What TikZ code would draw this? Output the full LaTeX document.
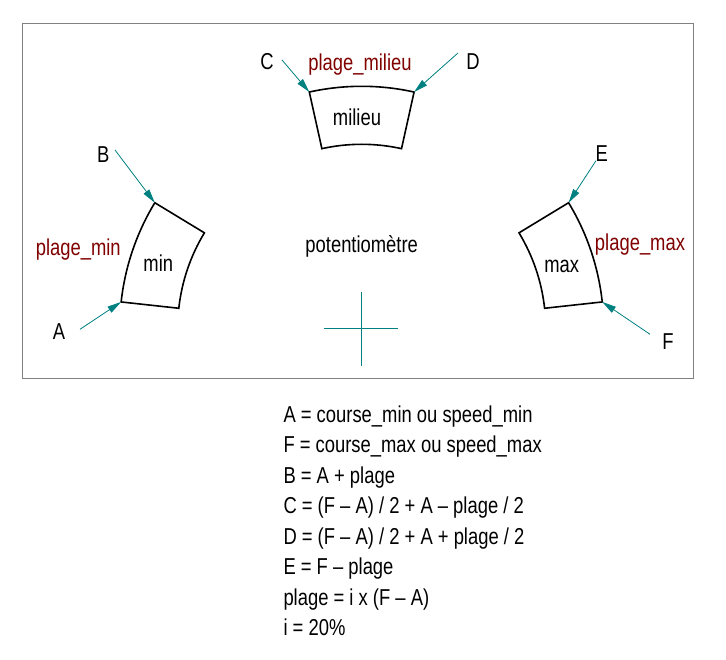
\documentclass[tikz,border=0pt]{standalone}
\usepackage{fontspec}
\setmainfont{Liberation Sans}[FakeStretch=0.8]
\usetikzlibrary{arrows.meta,calc}
\definecolor{teal2}{RGB}{0,128,128}
\definecolor{darkred2}{RGB}{128,0,0}
\definecolor{frame2}{RGB}{128,128,128}
\begin{document}
\begin{tikzpicture}[x=1pt,y=1pt,
  every node/.style={font=\fontsize{23}{27}\selectfont, inner sep=0pt},
  lbl/.style={text=black},
  plg/.style={text=darkred2},
  sector/.style={draw=black, line width=1.6pt, line join=miter},
  arr/.style={draw=teal2, line width=0.8pt, -{Triangle[length=14pt,width=7pt]}},
  crossline/.style={draw=teal2, line width=1pt},
  eq/.style={anchor=base west, text=black}]
\useasboundingbox (0,0) rectangle (726,660);
\draw[frame2, line width=0.8pt] (22,637) rectangle (693,282);
\coordinate (O) at (361.7,331.7);
% corners
\coordinate (Bpt) at ([shift={(O)}]148.75:242);
\coordinate (Apt) at ([shift={(O)}]173.75:242);
\coordinate (Cpt) at ([shift={(O)}]102.5:242);
\coordinate (Dpt) at ([shift={(O)}]77.5:242);
\coordinate (Ept) at ([shift={(O)}]31.25:242);
\coordinate (Fpt) at ([shift={(O)}]6.25:242);
% sectors
\draw[sector] ([shift={(O)}]148.75:242) arc[start angle=148.75, end angle=173.75, radius=242]
  -- ([shift={(O)}]173.75:184) arc[start angle=173.75, end angle=148.75, radius=184] -- cycle;
\draw[sector] ([shift={(O)}]77.5:242) arc[start angle=77.5, end angle=102.5, radius=242]
  -- ([shift={(O)}]102.5:184) arc[start angle=102.5, end angle=77.5, radius=184] -- cycle;
\draw[sector] ([shift={(O)}]6.25:242) arc[start angle=6.25, end angle=31.25, radius=242]
  -- ([shift={(O)}]31.25:184) arc[start angle=31.25, end angle=6.25, radius=184] -- cycle;
% arrow starts
\coordinate (Bs) at (115,510);
\coordinate (As) at (80,330.7);
\coordinate (Cs) at (282,600);
\coordinate (Ds) at (458,607);
\coordinate (Es) at (596,499.3);
\coordinate (Fs) at (650,325.7);
\draw[arr] (Bs) -- (Bpt);
\draw[arr] (As) -- (Apt);
\draw[arr] (Cs) -- (Cpt);
\draw[arr] (Ds) -- (Dpt);
\draw[arr] (Es) -- (Ept);
\draw[arr] (Fs) -- (Fpt);
% labels
\node[lbl] (lC) at (267,598) {C};
\node[lbl] (lD) at (473,598) {D};
\node[plg] (lpmil) at (360,595) {plage\_milieu};
\node[lbl] (lmil) at (357,543) {milieu};
\node[lbl] (lB) at (103.3,505) {B};
\node[lbl] (lA) at (59,328.3) {A};
\node[lbl] (lE) at (601.7,506.7) {E};
\node[lbl] (lF) at (668,318) {F};
\node[plg] (lpmin) at (78.3,410) {plage\_min};
\node[lbl] (lmin) at (158.3,396.7) {min};
\node[plg] (lpmax) at (640,415) {plage\_max};
\node[lbl] (lmax) at (561.7,394) {max};
\node[lbl] (lpot) at (361.7,413.3) {potentiomètre};
% cross
\coordinate (hL) at (324,331.7);
\coordinate (hR) at (397.7,331.7);
\coordinate (vT) at (361.7,368.3);
\coordinate (vB) at (361.7,294.3);
\draw[crossline] (hL) -- (hR);
\draw[crossline] (vT) -- (vB);
% equations
\node[eq] (e1) at (283.3,237.5) {A = course\_min ou speed\_min};
\node[eq] (e2) at (283.3,207.1) {F = course\_max ou speed\_max};
\node[eq] (e3) at (283.3,176.6) {B = A + plage};
\node[eq] (e4) at (283.3,146.2) {C = (F – A) / 2 + A – plage / 2};
\node[eq] (e5) at (283.3,115.8) {D = (F – A) / 2 + A + plage / 2};
\node[eq] (e6) at (283.3,85.4) {E = F – plage};
\node[eq] (e7) at (283.3,54.9) {plage = i x (F – A)};
\node[eq] (e8) at (283.3,24.5) {i = 20\%};
\end{tikzpicture}
\end{document}
